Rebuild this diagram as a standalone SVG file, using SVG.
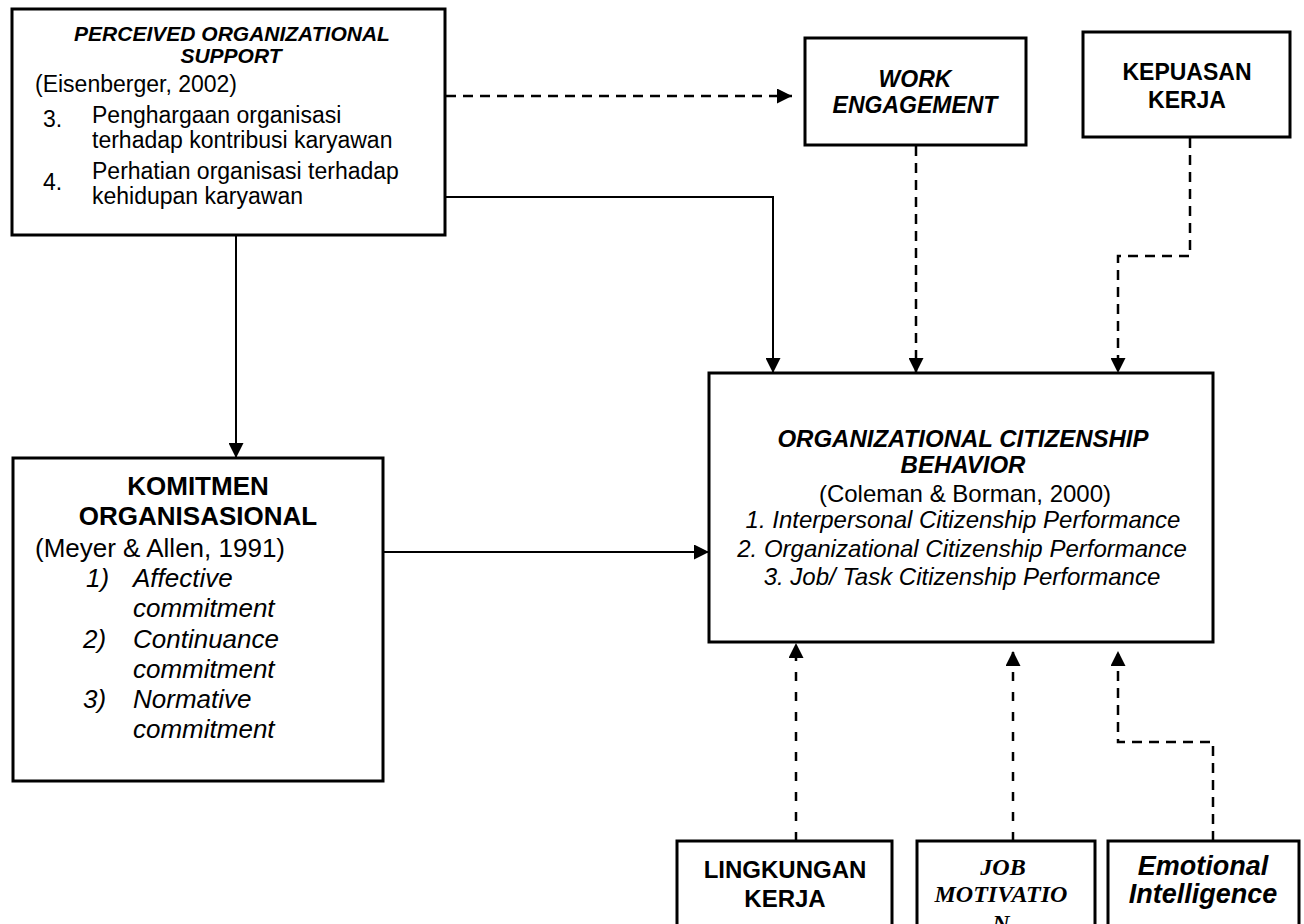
<svg xmlns="http://www.w3.org/2000/svg" width="1304" height="924" viewBox="0 0 1304 924">
<style>
.box{fill:#fff;stroke:#000;stroke-width:3}
.t{font-family:"Liberation Sans",Arial,sans-serif;fill:#000}
.s{font-family:"Liberation Serif","Times New Roman",serif;fill:#000}
.b{font-weight:bold}
.i{font-style:italic}
.c{text-anchor:middle}
.solid{fill:none;stroke:#000;stroke-width:2}
.dash{fill:none;stroke:#000;stroke-width:2.5;stroke-dasharray:10,7}
.dash2{fill:none;stroke:#000;stroke-width:2.5;stroke-dasharray:9,11}
</style>
<defs>
<marker id="ah" markerUnits="userSpaceOnUse" markerWidth="15" markerHeight="15" refX="15" refY="7.5" orient="auto" viewBox="0 0 15 15">
<path d="M0,0 L15,7.5 L0,15 z" fill="#000"/>
</marker>
</defs>
<rect width="1304" height="924" fill="#fff"/>

<g id="connectors">
<path class="dash" d="M446,96 H792" marker-end="url(#ah)"/>
<path class="solid" d="M446,197 H773 V373" marker-end="url(#ah)"/>
<path class="solid" d="M236,236 V458" marker-end="url(#ah)"/>
<path class="solid" d="M378,552 H709" marker-end="url(#ah)"/>
<path class="dash" d="M916,146 V373" marker-end="url(#ah)"/>
<path class="dash" d="M1190,138 V256 H1118 V373" marker-end="url(#ah)"/>
<path class="dash2" d="M796,841 V643" marker-end="url(#ah)"/>
<path class="dash2" d="M1013,841 V651" marker-end="url(#ah)"/>
<path class="dash" d="M1213,841 V742 H1118 V651" marker-end="url(#ah)"/>
</g>

<g id="pos">
<rect class="box" x="12" y="9" width="433" height="226"/>
<text class="t b i c" x="232" y="41" font-size="21">PERCEIVED ORGANIZATIONAL</text>
<text class="t b i c" x="231" y="63" font-size="21">SUPPORT</text>
<text class="t" x="35" y="92" font-size="23">(Eisenberger, 2002)</text>
<text class="t" x="43" y="127" font-size="23">3.</text>
<text class="t" x="92" y="123" font-size="23">Penghargaan organisasi</text>
<text class="t" x="92" y="148" font-size="23">terhadap kontribusi karyawan</text>
<text class="t" x="43" y="190" font-size="23">4.</text>
<text class="t" x="92" y="179" font-size="23">Perhatian organisasi terhadap</text>
<text class="t" x="92" y="204" font-size="23">kehidupan karyawan</text>
</g>

<g id="work-engagement">
<rect class="box" x="805" y="38" width="221" height="107"/>
<text class="t b i c" x="915" y="87" font-size="23">WORK</text>
<text class="t b i c" x="915" y="113" font-size="23">ENGAGEMENT</text>
</g>

<g id="kepuasan">
<rect class="box" x="1083" y="32" width="207" height="105"/>
<text class="t b c" x="1187" y="80" font-size="23">KEPUASAN</text>
<text class="t b c" x="1187" y="108" font-size="23">KERJA</text>
</g>

<g id="ocb">
<rect class="box" x="709" y="373" width="504" height="269"/>
<text class="t b i c" x="963" y="447" font-size="24">ORGANIZATIONAL CITIZENSHIP</text>
<text class="t b i c" x="963" y="473" font-size="24">BEHAVIOR</text>
<text class="t c" x="965" y="502" font-size="24">(Coleman &amp; Borman, 2000)</text>
<text class="t i c" x="963" y="528" font-size="24">1. Interpersonal Citizenship Performance</text>
<text class="t i c" x="962" y="557" font-size="24">2. Organizational Citizenship Performance</text>
<text class="t i c" x="962" y="585" font-size="24">3. Job/ Task Citizenship Performance</text>
</g>

<g id="komitmen">
<rect class="box" x="13" y="458" width="370" height="323"/>
<text class="t b c" x="198" y="495" font-size="26">KOMITMEN</text>
<text class="t b c" x="198" y="525" font-size="26">ORGANISASIONAL</text>
<text class="t" x="35" y="557" font-size="26">(Meyer &amp; Allen, 1991)</text>
<text class="t i" x="86" y="587" font-size="26">1)</text>
<text class="t i" x="133" y="587" font-size="26">Affective</text>
<text class="t i" x="133" y="617" font-size="26">commitment</text>
<text class="t i" x="83" y="648" font-size="26">2)</text>
<text class="t i" x="133" y="648" font-size="26">Continuance</text>
<text class="t i" x="133" y="678" font-size="26">commitment</text>
<text class="t i" x="83" y="708" font-size="26">3)</text>
<text class="t i" x="133" y="708" font-size="26">Normative</text>
<text class="t i" x="133" y="738" font-size="26">commitment</text>
</g>

<g id="lingkungan">
<rect class="box" x="677" y="841" width="215" height="100"/>
<text class="t b c" x="785" y="878" font-size="24">LINGKUNGAN</text>
<text class="t b c" x="785" y="907" font-size="24">KERJA</text>
</g>

<g id="job-motivation">
<rect class="box" x="917" y="841" width="178" height="100"/>
<text class="s b i c" x="1003" y="875" font-size="24">JOB</text>
<text class="s b i c" x="1001" y="902" font-size="24">MOTIVATIO</text>
<text class="s b i c" x="1001" y="931" font-size="24">N</text>
</g>

<g id="emotional-intelligence">
<rect class="box" x="1108" y="841" width="191" height="100"/>
<text class="t b i c" x="1203" y="875" font-size="27">Emotional</text>
<text class="t b i c" x="1203" y="903" font-size="27">Intelligence</text>
</g>
</svg>
